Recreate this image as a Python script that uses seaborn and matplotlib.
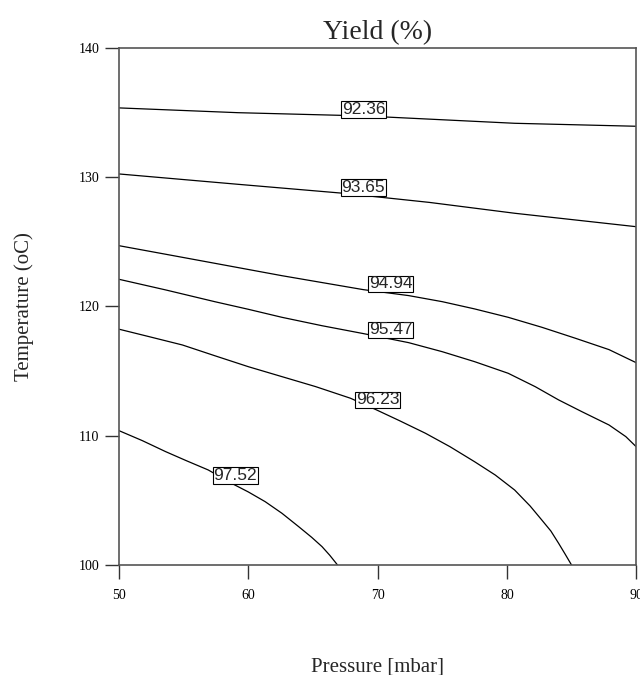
import pandas as pd
import matplotlib
matplotlib.use("Agg")
import matplotlib.pyplot as plt
import seaborn as sns

# contour levels and the points of each line
levels = ["92.36", "93.65", "94.94", "95.47", "96.23", "97.52"]

p_9236 = [50.0, 59.2, 68.9, 80.6, 90.0]
t_9236 = [135.36, 134.99, 134.74, 134.17, 133.94]

p_9365 = [50.0, 59.2, 67.3, 74.0, 80.6, 90.0]
t_9365 = [130.25, 129.45, 128.76, 128.05, 127.21, 126.17]

p_9494 = [50.0, 53.6, 57.4, 62.6, 68.9, 72.4, 75.0, 77.5, 80.1, 82.7, 85.3, 87.9, 90.0]
t_9494 = [124.70, 124.04, 123.34, 122.38, 121.30, 120.84, 120.37, 119.81, 119.16,
          118.39, 117.54, 116.66, 115.65]

p_9547 = [50.0, 53.6, 57.4, 60.0, 62.6, 65.7, 68.9, 72.4, 75.0, 77.5, 80.1, 82.2,
          84.0, 85.8, 87.9, 89.2, 90.0]
t_9547 = [122.10, 121.28, 120.37, 119.78, 119.16, 118.51, 117.90, 117.20, 116.50,
          115.73, 114.83, 113.79, 112.77, 111.86, 110.83, 109.93, 109.15]

p_9623 = [50.0, 52.3, 54.9, 57.4, 60.0, 62.6, 65.2, 67.9, 69.8, 71.7, 73.7, 75.6,
          77.5, 79.1, 80.6, 81.8, 82.7, 83.4, 84.0, 84.5, 85.0]
t_9623 = [118.24, 117.67, 117.02, 116.19, 115.34, 114.57, 113.80, 112.90, 112.05,
          111.16, 110.19, 109.15, 107.99, 106.96, 105.80, 104.56, 103.48, 102.63,
          101.68, 100.85, 100.0]

p_9752 = [50.0, 51.8, 53.6, 55.2, 56.9, 58.7, 60.0, 61.3, 62.6, 63.9, 64.9, 65.7,
          66.3, 66.9]
t_9752 = [110.39, 109.62, 108.77, 108.07, 107.35, 106.32, 105.65, 104.90, 104.00,
          102.96, 102.14, 101.42, 100.75, 100.0]

# where the boxed labels sit
label_p = [68.9, 68.9, 71.0, 71.0, 70.0, 59.0]
label_t = [135.26, 129.22, 121.74, 118.18, 112.77, 106.95]

lines_p = [p_9236, p_9365, p_9494, p_9547, p_9623, p_9752]
lines_t = [t_9236, t_9365, t_9494, t_9547, t_9623, t_9752]

rows = []
for lev, ps, ts in zip(levels, lines_p, lines_t):
    for p, t in zip(ps, ts):
        rows.append({"level": lev, "pressure": p, "temperature": t})
df = pd.DataFrame(rows)

sns.set_style("ticks")
plt.rcParams["font.family"] = ["Liberation Serif", "DejaVu Serif"]

fig = plt.figure(figsize=(6.4, 6.75), dpi=100)
ax = fig.add_axes([0.186, 0.163, 0.808, 0.766])

for lev in levels:
    sub = df[df["level"] == lev]
    sns.lineplot(data=sub, x="pressure", y="temperature", sort=False,
                 estimator=None, color="black", linewidth=0.9, ax=ax)

for lev, x, y in zip(levels, label_p, label_t):
    ax.text(x, y, lev, ha="center", va="center", fontsize=12.5,
            family=["Liberation Sans", "DejaVu Sans"], zorder=5,
            bbox=dict(boxstyle="square,pad=0.05", fc="white", ec="black", lw=0.8))

ax.set_xlim(50, 90)
ax.set_ylim(100, 140)
ax.set_xticks([50, 60, 70, 80, 90])
ax.set_yticks([100, 110, 120, 130, 140])
ax.tick_params(direction="out", length=10, width=1, colors="#333333", labelcolor="black")
ax.tick_params(axis="x", pad=7, labelsize=10)
ax.tick_params(axis="y", pad=4, labelsize=10)
for s in ax.spines.values():
    s.set_visible(True)
    s.set_color("#555555")
    s.set_linewidth(1.2)

ax.set_title("Yield (%)", fontsize=20, pad=6)
ax.set_xlabel("Pressure [mbar]", fontsize=15, labelpad=40)
ax.set_ylabel("Temperature (oC)", fontsize=15, labelpad=32)

fig.savefig("out.png", dpi=100)
